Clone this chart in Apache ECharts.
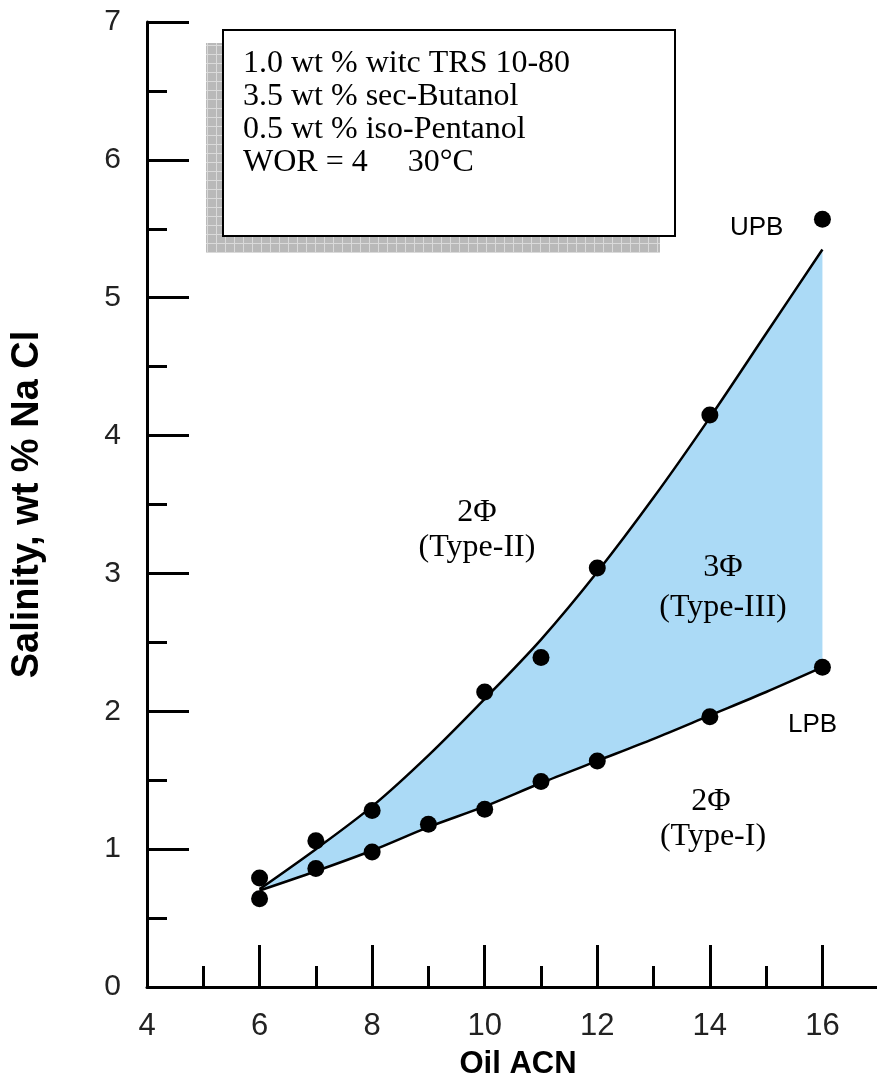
<!DOCTYPE html>
<html><head><meta charset="utf-8">
<script src="https://cdn.jsdelivr.net/npm/echarts@6/dist/echarts.min.js"></script>
<style>html,body{margin:0;padding:0;background:#fff}#c{width:877px;height:1084px}</style>
</head><body><div id="c"></div>
<script>
// Measured UPB (upper phase boundary) points
const upbAcn = [6, 7, 8, 10, 11, 12, 14, 16];
const upbValues = [0.79, 1.06, 1.28, 2.14, 2.39, 3.04, 4.15, 5.57];
// Measured LPB (lower phase boundary) points
const lpbAcn = [6, 7, 8, 9, 10, 11, 12, 14, 16];
const lpbValues = [0.64, 0.86, 0.98, 1.18, 1.29, 1.49, 1.64, 1.96, 2.32];
// Drawn boundary curves
const curveAcn = [6, 7, 8, 9, 10, 11, 12, 13, 14, 15, 16];
const upbCurve = [0.71, 1.00, 1.31, 1.68, 2.09, 2.52, 3.01, 3.55, 4.13, 4.74, 5.35];
const lpbCurve = [0.70, 0.84, 0.99, 1.16, 1.31, 1.48, 1.64, 1.80, 1.97, 2.14, 2.32];
// Text
const boxLines = ['1.0 wt % witc TRS 10-80', '3.5 wt % sec-Butanol', '0.5 wt % iso-Pentanol', 'WOR = 4     30\u00B0C'];
const xName = 'Oil ACN';
const yName = 'Salinity, wt % Na Cl';

const pair = (xs, ys) => xs.map((x, i) => [x, ys[i]]);

const pc = document.createElement('canvas');
pc.width = 9; pc.height = 9;
const g = pc.getContext('2d');
g.fillStyle = '#b9b9b9'; g.fillRect(0, 0, 9, 9);
g.fillStyle = '#dadada'; g.fillRect(0, 0, 9, 1); g.fillRect(0, 0, 1, 9);

const serif = '"Liberation Serif", "Times New Roman", serif';
const sans = '"Liberation Sans", Arial, sans-serif';
const FILL = '#abdaf6';

function txt(text, x, y, size, family, align) {
  return { type: 'text', z: 100, style: { text: text, x: x, y: y, fontSize: size, fontFamily: family, fill: '#000', align: align || 'center', verticalAlign: 'middle' } };
}

const chart = echarts.init(document.getElementById('c'), null, { renderer: 'canvas' });
const axisLineStyle = { color: '#000', width: 3 };
chart.setOption({
  animation: false,
  backgroundColor: '#fff',
  grid: { left: 147, right: -58, top: 22, bottom: 97, containLabel: false, outerBoundsMode: 'none' },
  xAxis: {
    type: 'value', min: 4, max: 18, interval: 2,
    name: xName, nameLocation: 'middle', nameGap: 62,
    nameTextStyle: { fontSize: 31, fontWeight: 'bold', fontFamily: sans, color: '#000', padding: [0, 46, 0, 0] },
    axisLine: { show: true, onZero: false, lineStyle: axisLineStyle },
    axisTick: { show: true, inside: true, length: 42, lineStyle: { color: '#000', width: 3 } },
    minorTick: { show: true, splitNumber: 2, length: 21, lineStyle: { color: '#000', width: 3 } },
    axisLabel: { margin: 24, fontSize: 31, fontFamily: sans, color: '#222' },
    splitLine: { show: false }, minorSplitLine: { show: false }
  },
  yAxis: {
    type: 'value', min: 0, max: 7, interval: 1,
    name: yName, nameLocation: 'middle', nameGap: 100,
    nameTextStyle: { fontSize: 38, fontWeight: 'bold', fontFamily: sans, color: '#000' },
    axisLine: { show: true, onZero: false, lineStyle: axisLineStyle },
    axisTick: { show: true, inside: true, length: 42, lineStyle: { color: '#000', width: 3 } },
    minorTick: { show: true, splitNumber: 2, length: 20, lineStyle: { color: '#000', width: 3 } },
    axisLabel: { margin: 26, fontSize: 30, fontFamily: sans, color: '#222' },
    splitLine: { show: false }, minorSplitLine: { show: false }
  },
  series: [
    {
      type: 'custom', silent: true, z: 1, clip: false,
      data: [[curveAcn[0], lpbCurve[0]]],
      renderItem: function (params, api) {
        const pts = [];
        for (let i = 0; i < curveAcn.length; i++) pts.push(api.coord([curveAcn[i], upbCurve[i]]));
        for (let i = curveAcn.length - 1; i >= 0; i--) pts.push(api.coord([curveAcn[i], lpbCurve[i]]));
        return { type: 'polygon', shape: { points: pts }, style: { fill: FILL } };
      }
    },
    { type: 'line', z: 2, data: pair(curveAcn, upbCurve), smooth: 0.3, symbol: 'none', lineStyle: { color: '#000', width: 2.5 }, silent: true },
    { type: 'line', z: 2, data: pair(curveAcn, lpbCurve), smooth: 0.3, symbol: 'none', lineStyle: { color: '#000', width: 2.5 }, silent: true },
    { type: 'scatter', z: 3, data: pair(upbAcn, upbValues), symbol: 'circle', symbolSize: 17, itemStyle: { color: '#000', opacity: 1 }, silent: true },
    { type: 'scatter', z: 3, data: pair(lpbAcn, lpbValues), symbol: 'circle', symbolSize: 17, itemStyle: { color: '#000', opacity: 1 }, silent: true }
  ],
  graphic: [
    { type: 'rect', z: 90, shape: { x: 206, y: 43, width: 454, height: 210 }, style: { fill: { image: pc, repeat: 'repeat' } } },
    { type: 'rect', z: 91, shape: { x: 223, y: 30, width: 452, height: 206 }, style: { fill: '#fff', stroke: '#000', lineWidth: 2 } },
    { type: 'text', z: 100, style: { text: boxLines[0], x: 243, y: 64, fontSize: 32, fontFamily: serif, fill: '#000', align: 'left', verticalAlign: 'middle' } },
    { type: 'text', z: 100, style: { text: boxLines[1], x: 243, y: 97, fontSize: 32, fontFamily: serif, fill: '#000', align: 'left', verticalAlign: 'middle' } },
    { type: 'text', z: 100, style: { text: boxLines[2], x: 243, y: 130, fontSize: 32, fontFamily: serif, fill: '#000', align: 'left', verticalAlign: 'middle' } },
    { type: 'text', z: 100, style: { text: boxLines[3], x: 243, y: 163, fontSize: 32, fontFamily: serif, fill: '#000', align: 'left', verticalAlign: 'middle' } },
    txt('2\u03A6', 477, 513, 32, serif),
    txt('(Type-II)', 477, 548, 32, serif),
    txt('3\u03A6', 723, 568, 32, serif),
    txt('(Type-III)', 723, 608, 32, serif),
    txt('2\u03A6', 711, 802, 32, serif),
    txt('(Type-I)', 713, 837, 32, serif),
    txt('UPB', 730, 228, 26, sans, 'left'),
    txt('LPB', 788, 725, 26, sans, 'left')
  ]
});
</script></body></html>
